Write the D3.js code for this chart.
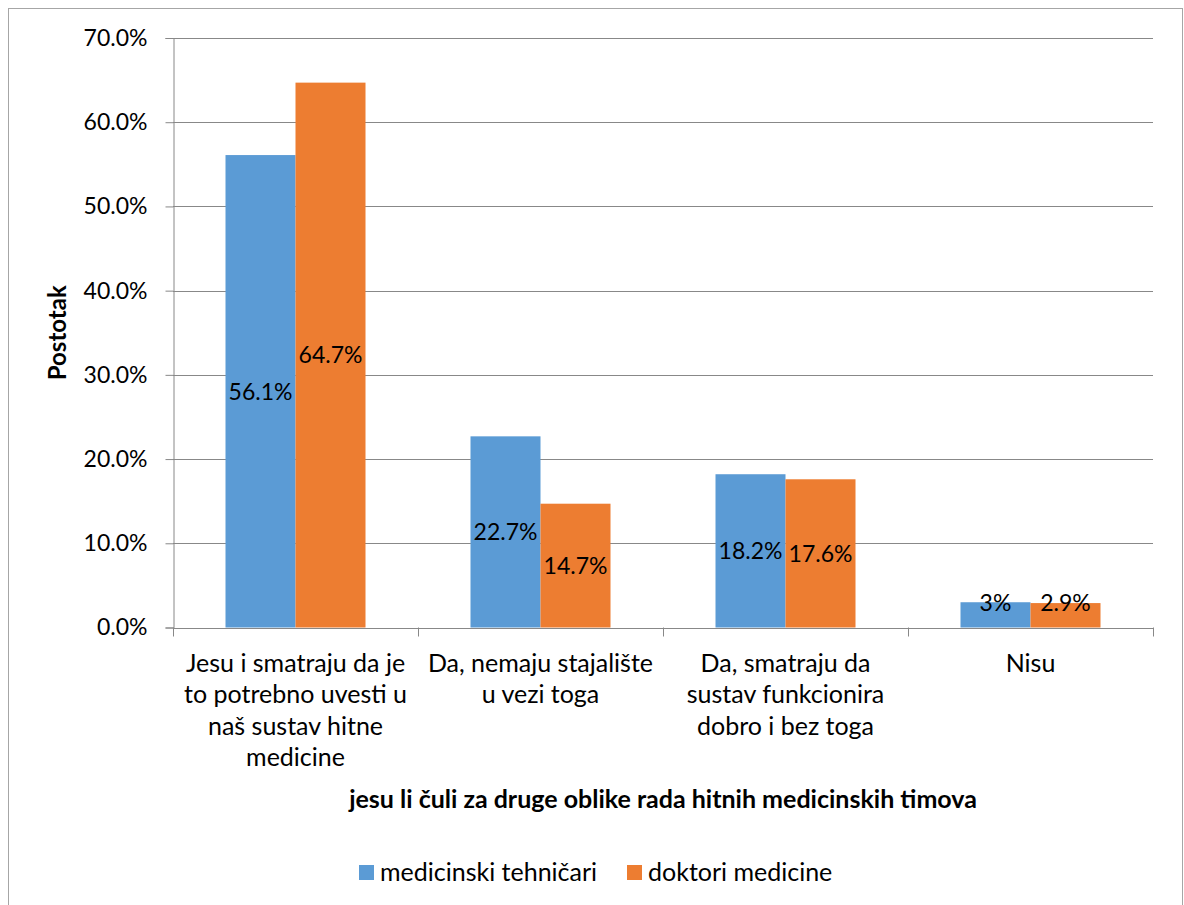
<!DOCTYPE html>
<html>
<head>
<meta charset="utf-8">
<script src="https://cdn.jsdelivr.net/npm/d3@7"></script>
<style>
  html, body { margin: 0; padding: 0; background: #fff; }
  svg { display: block; }
  text { font-family: Lato, "Open Sans", sans-serif; fill: #000; }
</style>
</head>
<body>
<svg id="chart" width="1184" height="905"></svg>
<script>
// ---- data ----
const categories = ["c1", "c2", "c3", "c4"];
const categoryLabels = [
  ["Jesu i smatraju da je", "to potrebno uvesti u", "naš sustav hitne", "medicine"],
  ["Da, nemaju stajalište", "u vezi toga"],
  ["Da, smatraju da", "sustav funkcionira", "dobro i bez toga"],
  ["Nisu"]
];
const seriesNames = ["medicinski tehničari", "doktori medicine"];
const tehnicari = [56.1, 22.7, 18.2, 3.0];
const doktori = [64.7, 14.7, 17.6, 2.9];
const tehnicariLabels = ["56.1%", "22.7%", "18.2%", "3%"];
const doktoriLabels = ["64.7%", "14.7%", "17.6%", "2.9%"];
const yTicks = [0, 10, 20, 30, 40, 50, 60, 70];
const yTitle = "Postotak";
const xTitle = "jesu li čuli za druge oblike rada hitnih medicinskih timova";
const colors = ["#5B9BD5", "#ED7D31"];

// ---- layout ----
const svg = d3.select("#chart");
const pL = 173, pR = 1153, pT = 38, pB = 627.5;
const fsNum = 23;   // numbers (ticks, data labels)
const fsTxt = 25;   // words (categories, legend, titles)

svg.append("rect").attr("x", 8.5).attr("y", 8.5).attr("width", 1174).attr("height", 905)
  .attr("fill", "#fff").attr("stroke", "#A6A6A6").attr("stroke-width", 1);

const x0 = d3.scaleBand().domain(categories).range([pL, pR]).paddingInner(0).paddingOuter(0);
const step = x0.bandwidth();
const barW = step / 3.5;
const x1 = d3.scaleBand().domain([0, 1]).range([(step - 2 * barW) / 2, (step + 2 * barW) / 2]);
const y = d3.scaleLinear().domain([0, 70]).range([pB, pT]);

// gridlines
svg.append("g").selectAll("line").data(yTicks.filter(d => d > 0)).join("line")
  .attr("x1", pL).attr("x2", pR)
  .attr("y1", d => Math.round(y(d)) + 0.5).attr("y2", d => Math.round(y(d)) + 0.5)
  .attr("stroke", "#888888").attr("stroke-width", 1);

// y axis
const yAxis = svg.append("g").attr("transform", `translate(${pL + 0.5},0)`)
  .call(d3.axisLeft(y).tickValues(yTicks).tickSize(8).tickPadding(18).tickFormat(d => d.toFixed(1) + "%"));
yAxis.select(".domain").attr("stroke", "#888888");
yAxis.selectAll(".tick line").attr("stroke", "#888888");
yAxis.selectAll(".tick text").attr("font-size", fsNum + "px").attr("font-family", "Lato").attr("fill", "#000");

// x axis line + ticks
const xg = svg.append("g");
xg.append("line").attr("x1", pL).attr("x2", pR)
  .attr("y1", Math.round(pB) + 0.5).attr("y2", Math.round(pB) + 0.5).attr("stroke", "#888888");
const tickXs = categories.map(c => x0(c)).concat([x0(categories[categories.length - 1]) + step]);
xg.selectAll("line.tk").data(tickXs).join("line").attr("class", "tk")
  .attr("x1", d => Math.round(d) + 0.5).attr("x2", d => Math.round(d) + 0.5)
  .attr("y1", pB).attr("y2", pB + 9).attr("stroke", "#888888");

// bars
const series = [tehnicari, doktori];
const seriesLabels = [tehnicariLabels, doktoriLabels];
series.forEach((vals, si) => {
  svg.append("g").selectAll("rect").data(vals).join("rect")
    .attr("x", (d, i) => x0(categories[i]) + x1(si))
    .attr("width", x1.bandwidth())
    .attr("y", d => y(d))
    .attr("height", d => y(0) - y(d))
    .attr("fill", colors[si]);
});
series.forEach((vals, si) => {
  svg.append("g").selectAll("text").data(vals).join("text")
    .attr("x", (d, i) => x0(categories[i]) + x1(si) + x1.bandwidth() / 2)
    .attr("y", d => Math.min((y(d) + y(0)) / 2, y(0) - 25))
    .attr("dy", "0.36em")
    .attr("text-anchor", "middle")
    .attr("font-size", fsNum + "px")
    .text((d, i) => seriesLabels[si][i]);
});

// category labels
const lineH = 31.3;
categories.forEach((c, i) => {
  const t = svg.append("text").attr("text-anchor", "middle").attr("font-size", fsTxt + "px");
  categoryLabels[i].forEach((ln, j) => {
    t.append("tspan").attr("x", x0(c) + step / 2).attr("y", 672 + j * lineH).text(ln);
  });
});

// axis titles
svg.append("text").attr("x", (pL + pR) / 2).attr("y", 808)
  .attr("text-anchor", "middle").attr("font-weight", "bold").attr("font-size", fsTxt + "px").text(xTitle);
svg.append("text").attr("transform", `translate(66,${(pT + pB) / 2}) rotate(-90)`)
  .attr("text-anchor", "middle").attr("font-weight", "bold").attr("font-size", "24px").text(yTitle);

// legend
const legendX = [359, 627];
seriesNames.forEach((n, i) => {
  svg.append("rect").attr("x", legendX[i]).attr("y", 865).attr("width", 15).attr("height", 15).attr("fill", colors[i]);
  svg.append("text").attr("x", legendX[i] + 21).attr("y", 881).attr("font-size", fsTxt + "px").text(n);
});
</script>
</body>
</html>
